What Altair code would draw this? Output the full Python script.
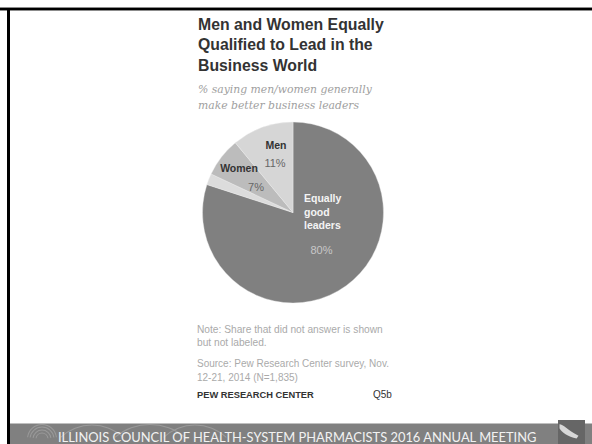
import altair as alt
import pandas as pd

# Pie shares, clockwise from twelve o'clock
slice_names = ["Equally good leaders", "No answer", "Women", "Men"]
slice_shares = [80, 2, 7, 11]
slice_colors = ["#808080", "#dcdcdc", "#bcbcbc", "#d6d6d6"]

title_lines = ["Men and Women Equally", "Qualified to Lead in the", "Business World"]
subtitle_lines = ["% saying men/women generally", "make better business leaders"]
note_lines = ["Note: Share that did not answer is shown", "but not labeled."]
source_lines = ["Source: Pew Research Center survey, Nov.", "12-21, 2014 (N=1,835)"]
credit = "PEW RESEARCH CENTER"
question = "Q5b"
footer = "ILLINOIS COUNCIL OF HEALTH-SYSTEM PHARMACISTS 2016 ANNUAL MEETING"

one = pd.DataFrame({"k": [0]})
TURN = 6.2832


def label(text, x, y, size, color, font="Liberation Sans", weight="normal",
          style="normal", align="left"):
    return (
        alt.Chart(one)
        .mark_text(text=text, font=font, fontSize=size, color=color, fontWeight=weight,
                   fontStyle=style, align=align, baseline="alphabetic")
        .encode(x=alt.value(x), y=alt.value(y))
    )


def box(x, x2, y, y2, color):
    return (
        alt.Chart(one)
        .mark_rect(color=color)
        .encode(x=alt.value(x), x2=alt.value(x2), y=alt.value(y), y2=alt.value(y2))
    )


def ring(cx, cy, r, half_angle, color="#9a9a9a"):
    # A thin arc centred on twelve o'clock
    return (
        alt.Chart(one)
        .mark_arc(innerRadius=r - 0.5, outerRadius=r + 0.5, theta=TURN - half_angle,
                  theta2=TURN + half_angle, color=color)
        .encode(x=alt.value(cx), y=alt.value(cy))
    )


pie_data = pd.DataFrame(
    {"name": slice_names, "share": slice_shares, "rank": range(len(slice_names))}
)
pie = (
    alt.Chart(pie_data)
    .mark_arc(outerRadius=90.5, stroke="#eeeeee", strokeWidth=0.4)
    .encode(
        x=alt.value(293),
        y=alt.value(212.5),
        theta=alt.Theta("share:Q", stack=True),
        order=alt.Order("rank:Q"),
        color=alt.Color(
            "name:N",
            scale=alt.Scale(domain=slice_names, range=slice_colors),
            legend=None,
        ),
    )
)

layers = [
    # Slide frame
    box(0, 592, 7, 11, "#8c8c8c"),
    box(0, 592, 8, 10, "#000000"),
    box(7, 10, 8, 444, "#000000"),
    # Footer band with its ring ornament
    box(10, 592, 423.5, 444, "#808080"),
]
layers += [ring(42, 439, r, 1.45) for r in (6, 9, 12, 14.5)]
layers += [
    ring(92, 471, 46, 0.75),
    ring(150, 479, 54.5, 0.7),
    ring(195, 471, 46, 0.75),
    box(558, 585, 420, 444, "#666666"),
    alt.Chart(one)
    .mark_point(
        shape="M -1 -0.7 C -0.6 -0.7 -0.2 -0.1 1 0.5 L 0.8 0.8 C -0.1 0.6 -0.8 0.1 -1 -0.3 Z",
        size=360, filled=True, color="#d8d8d8", opacity=1,
    )
    .encode(x=alt.value(569), y=alt.value(431)),
    pie,
]

for text, y in zip(title_lines, (30, 50, 71)):
    layers.append(label(text, 198, y, 15.8, "#333333", weight="bold"))
for text, y in zip(subtitle_lines, (93, 109)):
    layers.append(label(text, 198, y, 10.8, "#a0a0a0", font="DejaVu Serif", style="italic"))

# Slice labels
layers += [
    label("Men", 276, 149, 10.5, "#333333", weight="bold", align="center"),
    label("11%", 275, 167, 11, "#666666", align="center"),
    label("Women", 239, 172, 10.5, "#333333", weight="bold", align="center"),
    label("7%", 256, 191, 11, "#666666", align="center"),
    label("Equally", 304, 202, 10.5, "#f4f4f4", weight="bold"),
    label("good", 304, 216, 10.5, "#f4f4f4", weight="bold"),
    label("leaders", 304, 229, 10.5, "#f4f4f4", weight="bold"),
    label("80%", 321.5, 254, 11, "#c8c8c8", align="center"),
]

for text, y in zip(note_lines, (333, 346)):
    layers.append(label(text, 197, y, 10.2, "#aaaaaa"))
for text, y in zip(source_lines, (367, 381)):
    layers.append(label(text, 197, y, 10, "#aaaaaa"))
layers += [
    label(credit, 197, 398, 9.3, "#333333", weight="bold"),
    label(question, 373, 398, 10, "#333333"),
    label(footer, 58, 442, 12.9, "#f2f2f2", font="Lato"),
]

chart = (
    alt.layer(*layers)
    .properties(width=592, height=444, padding=0, background="white",
                autosize=alt.AutoSizeParams(type="none"))
    .configure_view(stroke=None)
)

chart.save("out.html", embed_options={"renderer": "svg", "actions": False})
